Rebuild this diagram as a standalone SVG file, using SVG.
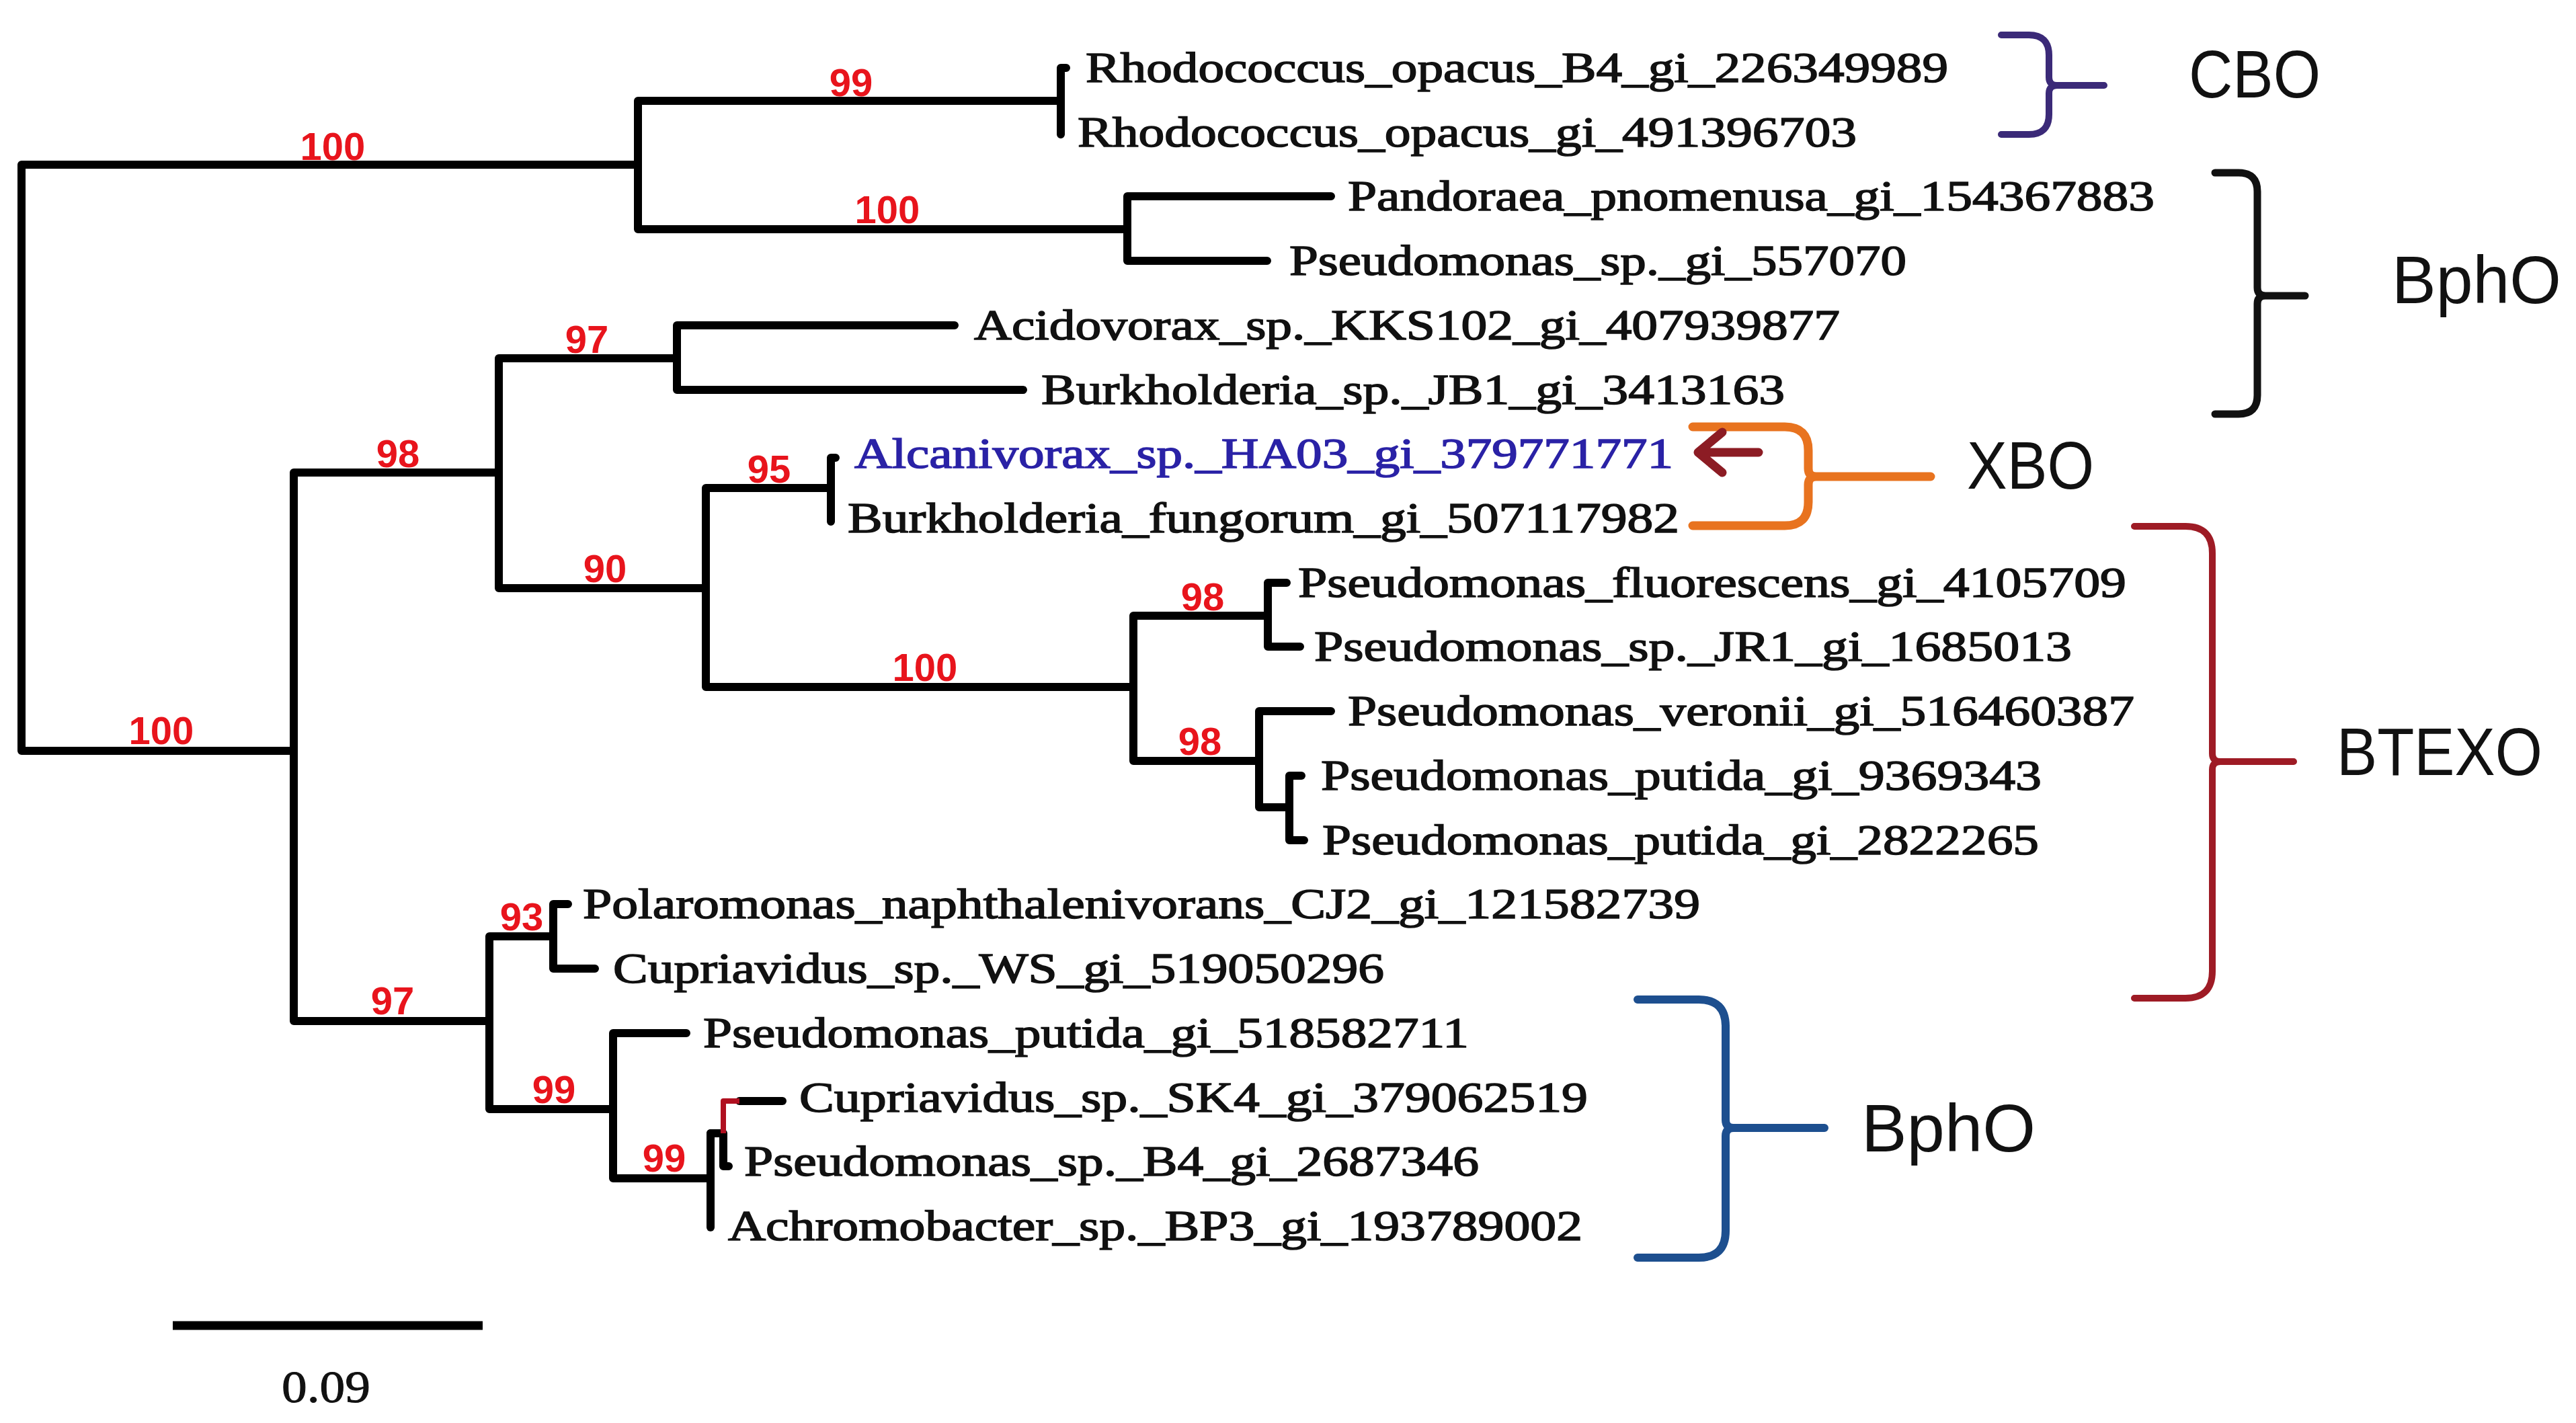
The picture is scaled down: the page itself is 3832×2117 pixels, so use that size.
<svg xmlns="http://www.w3.org/2000/svg" width="3832" height="2117" viewBox="0 0 3832 2117">
<style>
.br{fill:none;stroke:#000;stroke-width:12;stroke-linecap:round;stroke-linejoin:round}
.bs{font-family:"Liberation Sans",Arial,sans-serif;font-weight:bold;font-size:58px;fill:#e8141c;text-anchor:middle}
.lf{font-family:"Liberation Serif","Times New Roman",serif;font-size:64px;fill:#111;stroke:#111;stroke-width:1.6px}
.grp{font-family:"Liberation Sans",Arial,sans-serif;font-size:100px;fill:#111}
.brace{fill:none;stroke-linecap:round;stroke-linejoin:round}
</style>
<rect width="3832" height="2117" fill="#fff"/>
<g id="connectors">
<path class="br" d="M949,245 L32,245 L32,1117 L437,1117"/>
<path class="br" d="M1578,150 L949,150 L949,341 L1677,341"/>
<path class="br" d="M1586,101 L1578,101 L1578,200"/>
<path class="br" d="M1980,292 L1677,292 L1677,388 L1885,388"/>
<path class="br" d="M742,703 L437,703 L437,1519 L728,1519"/>
<path class="br" d="M1007,533 L742,533 L742,875 L1050,875"/>
<path class="br" d="M1420,484 L1007,484 L1007,580 L1522,580"/>
<path class="br" d="M1236,726 L1050,726 L1050,1022 L1686,1022"/>
<path class="br" d="M1243,681 L1236,681 L1236,776"/>
<path class="br" d="M1886,916 L1686,916 L1686,1132 L1873,1132"/>
<path class="br" d="M1914,867 L1886,867 L1886,962 L1934,962"/>
<path class="br" d="M1980,1058 L1873,1058 L1873,1201 L1918,1201"/>
<path class="br" d="M1936,1154 L1918,1154 L1918,1250 L1940,1250"/>
<path class="br" d="M823,1393 L728,1393 L728,1650 L912,1650"/>
<path class="br" d="M845,1345 L823,1345 L823,1441 L885,1441"/>
<path class="br" d="M1021,1537 L912,1537 L912,1753 L1057,1753"/>
<path class="br" d="M1057,1686 L1057,1826"/>
<path class="br" d="M1057,1686 L1076,1686 L1076,1735 L1084,1735"/>
<path class="br" d="M1100,1638 L1164,1638"/>
<path d="M1076,1686 L1076,1638 L1100,1638" fill="none" stroke="#b01020" stroke-width="8" stroke-linejoin="round"/>
</g>
<g id="bootstrap">
<text class="bs" x="495" y="238">100</text>
<text class="bs" x="1266" y="143">99</text>
<text class="bs" x="1320" y="332">100</text>
<text class="bs" x="873" y="525">97</text>
<text class="bs" x="592" y="695">98</text>
<text class="bs" x="1144" y="718">95</text>
<text class="bs" x="900" y="866">90</text>
<text class="bs" x="1376" y="1013">100</text>
<text class="bs" x="1789" y="908">98</text>
<text class="bs" x="1785" y="1123">98</text>
<text class="bs" x="240" y="1107">100</text>
<text class="bs" x="584" y="1509">97</text>
<text class="bs" x="776" y="1384">93</text>
<text class="bs" x="824" y="1641">99</text>
<text class="bs" x="988" y="1743">99</text>
</g>
<g id="leaf-1"><text class="lf" x="1615" y="122" textLength="1283" lengthAdjust="spacingAndGlyphs">Rhodococcus_opacus_B4_gi_226349989</text></g>
<g id="leaf-2"><text class="lf" x="1603" y="218" textLength="1159" lengthAdjust="spacingAndGlyphs">Rhodococcus_opacus_gi_491396703</text></g>
<g id="leaf-3"><text class="lf" x="2005" y="313" textLength="1200" lengthAdjust="spacingAndGlyphs">Pandoraea_pnomenusa_gi_154367883</text></g>
<g id="leaf-4"><text class="lf" x="1918" y="409" textLength="918" lengthAdjust="spacingAndGlyphs">Pseudomonas_sp._gi_557070</text></g>
<g id="leaf-5"><text class="lf" x="1449" y="505" textLength="1288" lengthAdjust="spacingAndGlyphs">Acidovorax_sp._KKS102_gi_407939877</text></g>
<g id="leaf-6"><text class="lf" x="1549" y="601" textLength="1106" lengthAdjust="spacingAndGlyphs">Burkholderia_sp._JB1_gi_3413163</text></g>
<g id="leaf-7"><text class="lf" x="1271" y="696" textLength="1218" lengthAdjust="spacingAndGlyphs" style="fill:#2a22a6;stroke:#2a22a6">Alcanivorax_sp._HA03_gi_379771771</text></g>
<g id="leaf-8"><text class="lf" x="1261" y="792" textLength="1237" lengthAdjust="spacingAndGlyphs">Burkholderia_fungorum_gi_507117982</text></g>
<g id="leaf-9"><text class="lf" x="1931" y="888" textLength="1232" lengthAdjust="spacingAndGlyphs">Pseudomonas_fluorescens_gi_4105709</text></g>
<g id="leaf-10"><text class="lf" x="1955" y="983" textLength="1127" lengthAdjust="spacingAndGlyphs">Pseudomonas_sp._JR1_gi_1685013</text></g>
<g id="leaf-11"><text class="lf" x="2005" y="1079" textLength="1170" lengthAdjust="spacingAndGlyphs">Pseudomonas_veronii_gi_516460387</text></g>
<g id="leaf-12"><text class="lf" x="1965" y="1175" textLength="1072" lengthAdjust="spacingAndGlyphs">Pseudomonas_putida_gi_9369343</text></g>
<g id="leaf-13"><text class="lf" x="1967" y="1271" textLength="1066" lengthAdjust="spacingAndGlyphs">Pseudomonas_putida_gi_2822265</text></g>
<g id="leaf-14"><text class="lf" x="867" y="1366" textLength="1662" lengthAdjust="spacingAndGlyphs">Polaromonas_naphthalenivorans_CJ2_gi_121582739</text></g>
<g id="leaf-15"><text class="lf" x="912" y="1462" textLength="1147" lengthAdjust="spacingAndGlyphs">Cupriavidus_sp._WS_gi_519050296</text></g>
<g id="leaf-16"><text class="lf" x="1046" y="1558" textLength="1139" lengthAdjust="spacingAndGlyphs">Pseudomonas_putida_gi_518582711</text></g>
<g id="leaf-17"><text class="lf" x="1189" y="1654" textLength="1173" lengthAdjust="spacingAndGlyphs">Cupriavidus_sp._SK4_gi_379062519</text></g>
<g id="leaf-18"><text class="lf" x="1107" y="1749" textLength="1093" lengthAdjust="spacingAndGlyphs">Pseudomonas_sp._B4_gi_2687346</text></g>
<g id="leaf-19"><text class="lf" x="1083" y="1845" textLength="1271" lengthAdjust="spacingAndGlyphs">Achromobacter_sp._BP3_gi_193789002</text></g>
<g id="group-CBO">
<path class="brace" stroke="#3b2a78" stroke-width="10" d="M2977,52 L3018,52 Q3048,52 3048,82 L3048,115 Q3048,127 3060,127 L3130,127 M3060,127 Q3048,127 3048,139 L3048,170 Q3048,200 3018,200 L2977,200"/>
<text class="grp" x="3256" y="145" textLength="196" lengthAdjust="spacingAndGlyphs">CBO</text>
</g>
<g id="group-BphO-1">
<path class="brace" stroke="#111" stroke-width="11" d="M3295,257 L3330,257 Q3358,257 3358,285 L3358,428 Q3358,440 3370,440 L3429,440 M3370,440 Q3358,440 3358,452 L3358,588 Q3358,616 3330,616 L3295,616"/>
<text class="grp" x="3558" y="451" textLength="252" lengthAdjust="spacingAndGlyphs">BphO</text>
</g>
<g id="group-XBO">
<path class="brace" stroke="#e8731f" stroke-width="13" d="M2518,635 L2655,635 Q2690,635 2690,670 L2690,697 Q2690,709 2702,709 L2872,709 M2702,709 Q2690,709 2690,721 L2690,747 Q2690,782 2655,782 L2518,782"/>
<path fill="none" stroke="#8c1c24" stroke-width="13" stroke-linecap="round" stroke-linejoin="round" d="M2616,673 L2530,673 M2562,643 L2526,673 L2562,703"/>
<text class="grp" x="2926" y="727" textLength="189" lengthAdjust="spacingAndGlyphs">XBO</text>
</g>
<g id="group-BTEXO">
<path class="brace" stroke="#9e1b25" stroke-width="10" d="M3175,783 L3251,783 Q3291,783 3291,823 L3291,1121 Q3291,1133 3303,1133 L3412,1133 M3303,1133 Q3291,1133 3291,1145 L3291,1445 Q3291,1485 3251,1485 L3175,1485"/>
<text class="grp" x="3476" y="1153" textLength="306" lengthAdjust="spacingAndGlyphs">BTEXO</text>
</g>
<g id="group-BphO-2">
<path class="brace" stroke="#1d4f8f" stroke-width="12" d="M2436,1487 L2527,1487 Q2567,1487 2567,1527 L2567,1666 Q2567,1678 2579,1678 L2714,1678 M2579,1678 Q2567,1678 2567,1690 L2567,1831 Q2567,1871 2527,1871 L2436,1871"/>
<text class="grp" x="2769" y="1713" textLength="259" lengthAdjust="spacingAndGlyphs">BphO</text>
</g>
<g id="scale-bar">
<path d="M257,1972 L718,1972" stroke="#000" stroke-width="13"/>
<text class="lf" x="419" y="2086" textLength="132" lengthAdjust="spacingAndGlyphs" style="font-size:68px;stroke-width:1px">0.09</text>
</g>
</svg>
